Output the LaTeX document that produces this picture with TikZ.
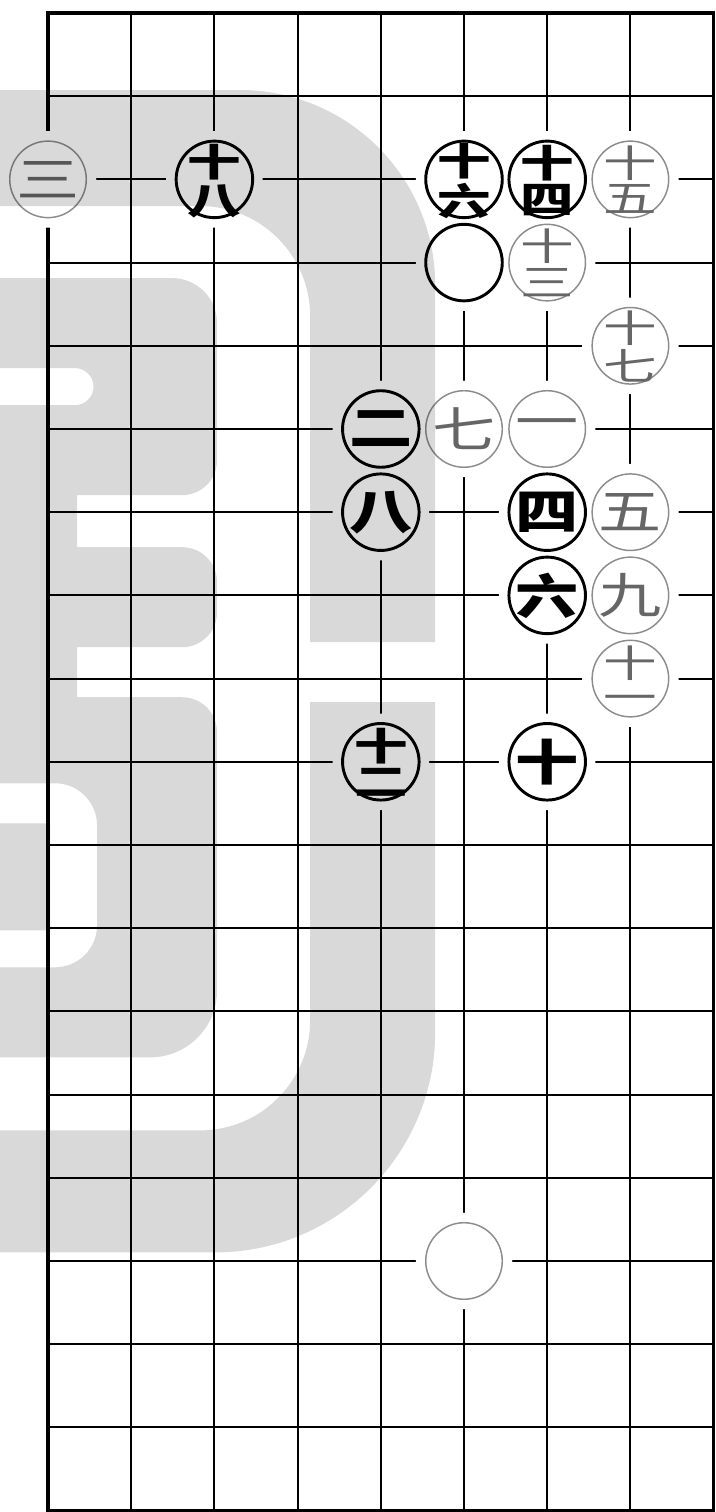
\documentclass[tikz,border=0pt]{standalone}
\usepackage{fontspec}
\usepackage{calc}
\newfontfamily\cjk{Noto Sans CJK SC}
\usepackage{tikz}
\tikzstyle{kuro} = [circle, draw=black, line width=1pt, fill=white, minimum size=0.92cm, inner sep=0pt, font=\cjk\bfseries\fontsize{18}{18}\selectfont]
\tikzstyle{shiro} = [circle, draw=black!45, line width=0.5pt, fill=white, minimum size=0.92cm, inner sep=0pt, text=black!60, font=\cjk\fontsize{18}{18}\selectfont]
\tikzstyle{gridline} = [line width=0.7pt]
\tikzstyle{border} = [line width=1.2pt]
\tikzstyle{wash} = [fill=black, fill opacity=0.15, even odd rule]
\newcommand{\kan}[1]{\smash{\makebox[0pt]{\raisebox{-0.5\height+0.5\depth}{\scalebox{1.2}[0.92]{#1}}}}}
\newcommand{\juu}[1]{\smash{\makebox[0pt]{\raisebox{-0.5\height}{\scalebox{1.22}[0.86]{\fontsize{15}{15}\selectfont\begin{tabular}[b]{@{}c@{}}十\\[-1.5pt]#1\end{tabular}}}}}}

\begin{document}
\begin{tikzpicture}
\useasboundingbox (-0.577,0.156) rectangle (8.017,-18.017);
\foreach \r in {1,...,17} \draw[gridline] (0,-\r) -- (8,-\r);
\foreach \c in {1,...,7} \draw[gridline] (\c,0) -- (\c,-18);
\draw[border] (0,0) rectangle (8,-18);
\foreach \c/\r in {0/2,2/2,5/2,6/2,7/2,5/3,6/3,7/4,4/5,5/5,6/5,4/6,6/6,7/6,6/7,7/7,7/8,4/9,6/9,5/15}
  \fill[white] (\c,-\r) circle (0.58);

\node[shiro] (m1) at (6,-5) {\kan{一}};
\node[kuro] (m2) at (4,-5) {\kan{二}};
\node[shiro] (m3) at (0,-2) {\kan{三}};
\node[kuro] (m4) at (6,-6) {\kan{四}};
\node[shiro] (m5) at (7,-6) {\kan{五}};
\node[kuro] (m6) at (6,-7) {\kan{六}};
\node[shiro] (m7) at (5,-5) {\kan{七}};
\node[kuro] (m8) at (4,-6) {\kan{八}};
\node[shiro] (m9) at (7,-7) {\kan{九}};
\node[kuro] (m10) at (6,-9) {\kan{十}};
\node[shiro] (m11) at (7,-8) {\juu{一}};
\node[kuro] (m12) at (4,-9) {\juu{二}};
\node[shiro] (m13) at (6,-3) {\juu{三}};
\node[kuro] (m14) at (6,-2) {\juu{四}};
\node[shiro] (m15) at (7,-2) {\juu{五}};
\node[kuro] (m16) at (5,-2) {\juu{六}};
\node[shiro] (m17) at (7,-4) {\juu{七}};
\node[kuro] (m18) at (2,-2) {\juu{八}};
\node[kuro] (ko1) at (5,-3) {};
\node[shiro] (ko2) at (5,-15) {};

% library stamp over the page
\begin{scope}[shift={(-0.5769,0.1563)}, x=0.012019cm, y=-0.012019cm]
\fill[wash] (-10,90) -- (240,90) arc[start angle=-90, end angle=0, radius=195] -- (435,642) -- (310,642) -- (310,316) arc[start angle=0, end angle=-90, radius=110] -- (-10,206) -- cycle;
\fill[wash] (435,702) -- (435,1032) arc[start angle=0, end angle=90, radius=220] -- (-10,1252) -- (-10,1130) -- (200,1130) arc[start angle=90, end angle=0, radius=110] -- (310,702) -- cycle;
\fill[wash] (-10,278) -- (172,278) arc[start angle=-90, end angle=0, radius=45] -- (217,460) arc[start angle=0, end angle=90, radius=35] -- (77,495) -- (77,547) -- (182,547) arc[start angle=-90, end angle=0, radius=35] -- (217,612) arc[start angle=0, end angle=90, radius=35] -- (77,647) -- (77,697) -- (182,697) arc[start angle=-90, end angle=0, radius=35] -- (217,990) arc[start angle=0, end angle=90, radius=67] -- (-10,1057) -- cycle
  (-5,368) -- (75,368) arc[start angle=-90, end angle=90, radius=18.5] -- (-5,405) -- cycle
  (-5,783) -- (55,783) arc[start angle=-90, end angle=0, radius=42] -- (97,925) arc[start angle=0, end angle=90, radius=42] -- (-5,967) -- cycle
  (-8,823) rectangle (50,930);
\end{scope}
\end{tikzpicture}
\end{document}
